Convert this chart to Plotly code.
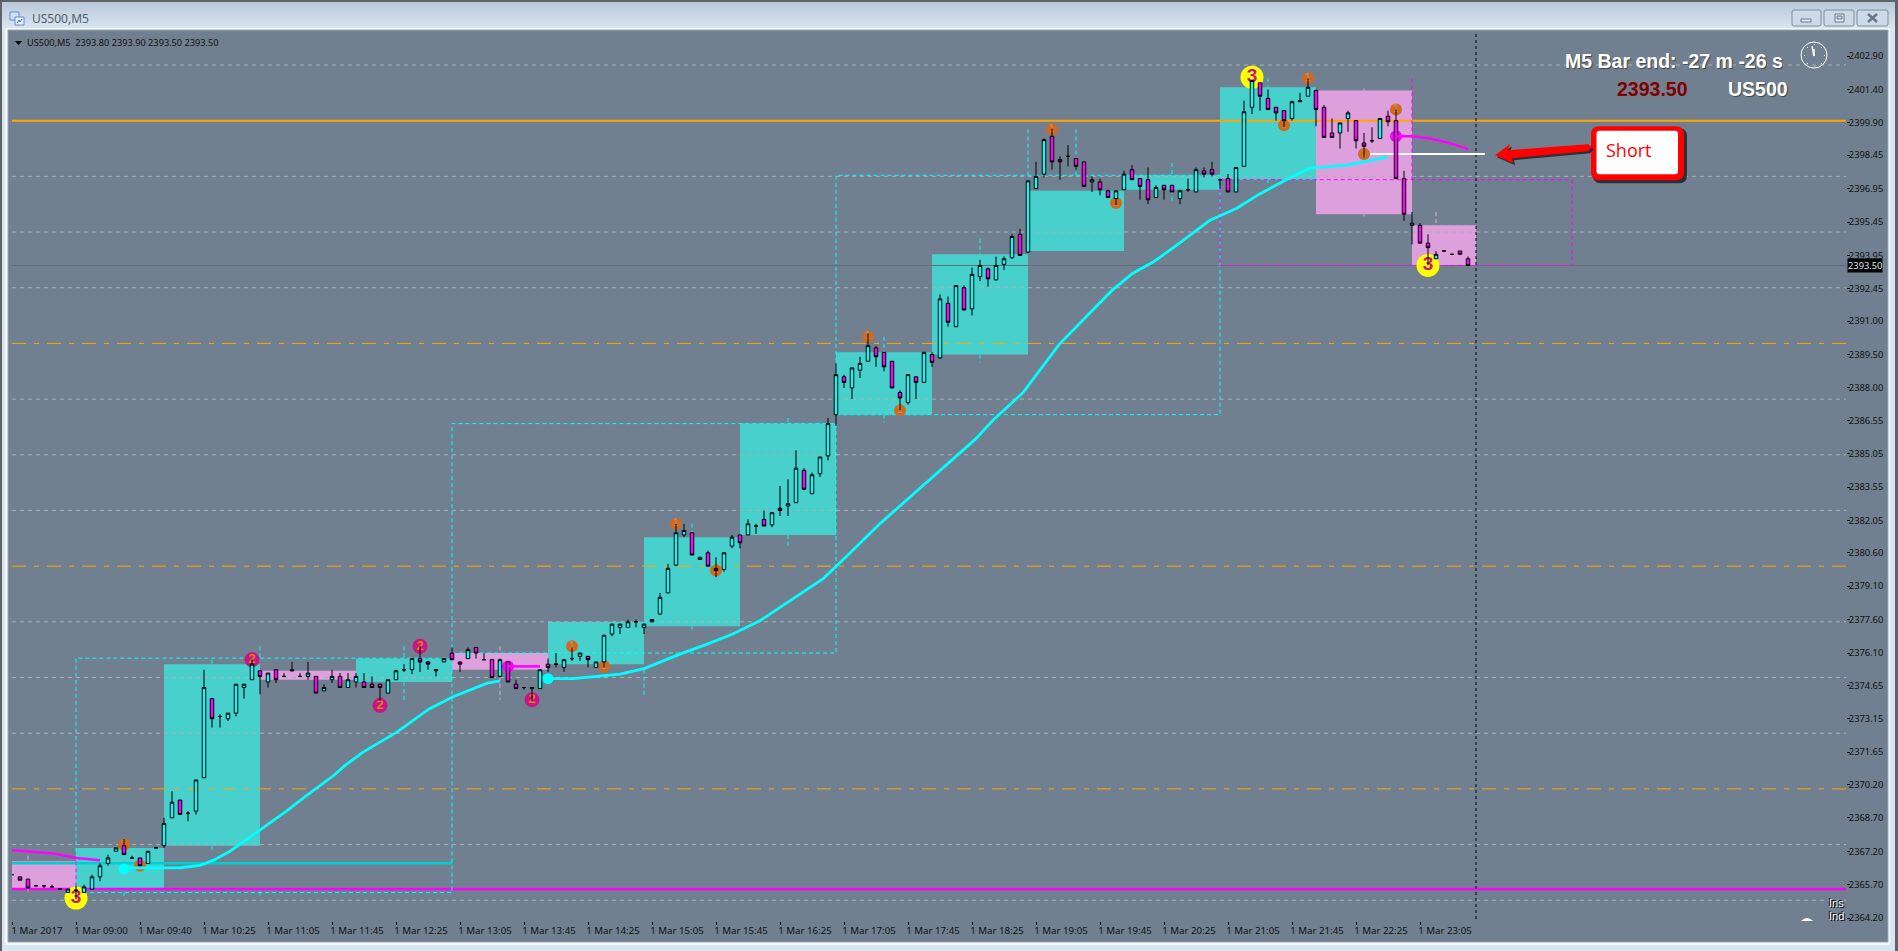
import plotly.graph_objects as go

W, H = 1898, 951
FIG_H = 955
PLOT_L, PLOT_R, PLOT_T, PLOT_B = 12, 1846, 34, 920

# ---------- data ----------
opens = [
 2366.15,2366.05,2365.95,2365.65,2365.65,2365.6,2365.5,2365.35,2365.45,2365.35,
 2365.5,2366.05,2366.65,2367.2,2367.45,2366.9,2366.9,2366.65,2367.35,2367.45,
 2368.7,2369.5,2368.9,2369,2370.5,2374.05,2373.25,2373.15,2373.4,2374.55,
 2374.9,2375.3,2374.8,2375.35,2375.05,2375.35,2375.05,2375.05,2375.05,2374.4,
 2374.9,2375.05,2374.55,2374.8,2374.8,2374.7,2374.7,2374.3,2374.9,2375.35,
 2375.35,2375.85,2375.7,2375.3,2375.7,2376.1,2375.7,2375.85,2376.35,2375.8,
 2375.8,2375.05,2375.7,2374.7,2374.55,2374.5,2374.5,2375.6,2375.6,2375.45,
 2375.85,2375.95,2375.95,2375.45,2375.7,2376.95,2377.25,2377.25,2377.5,2377.25,
 2377.5,2377.85,2378.8,2380.05,2381.4,2381.5,2380.3,2380.6,2379.9,2379.85,
 2380.9,2381.4,2381.4,2381.8,2382.1,2381.85,2382.6,2382.7,2382.85,2384.3,
 2383.25,2384.15,2384.95,2386.8,2388.5,2388,2388.8,2389.2,2389.8,2389.6,
 2389.2,2387.8,2387.35,2388.5,2388.25,2389.5,2389.35,2391.8,2390.75,2392.5,
 2391.55,2393,2393.35,2392.85,2393.55,2393.85,2394.9,2394.1,2396.95,2397.6,
 2399.3,2398.25,2398.4,2398.3,2398.15,2397.25,2397.25,2396.85,2396.5,2396.9,
 2397.8,2397.4,2397.35,2396.55,2397.1,2397.1,2396.5,2396.9,2396.8,2397.75,
 2397.8,2397.35,2397.4,2396.8,2397.95,2400.6,2401.7,2401,2400.6,2400.45,
 2400.1,2400.85,2401.1,2401.35,2400.6,2399.45,2399.45,2400.1,2400,2399,
 2399.1,2399.2,2400.2,2400,2397.4,2395.3,2395.3,2394.5,2393.8,2394.15,2394,2394.15,2393.8]
closes = [
 2366.15,2365.9,2365.55,2365.65,2365.65,2365.6,2365.5,2365.5,2365.45,2365.6,
 2366.05,2366.55,2366.9,2367.35,2367.05,2366.9,2366.55,2367.2,2367.35,2368.45,
 2369.4,2368.85,2368.9,2370.4,2374.55,2373.15,2373.25,2373.4,2374.7,2374.7,
 2375.6,2375.05,2375.2,2374.9,2375.05,2375.3,2375.05,2375.2,2374.3,2374.55,
 2375.05,2374.55,2374.9,2375.05,2374.55,2374.55,2374.55,2374.9,2375.3,2375.35,
 2375.85,2375.7,2375.6,2375.35,2375.85,2375.8,2375.6,2376.25,2376.1,2375.8,
 2375,2375.8,2374.8,2374.5,2374.55,2374.55,2375.35,2375.45,2375.6,2375.8,
 2375.85,2376.1,2375.8,2375.7,2376.9,2377.4,2377.4,2377.5,2377.5,2377.4,
 2377.6,2378.6,2379.9,2381.5,2381.6,2380.5,2380.4,2380,2379.8,2380.6,
 2381.3,2381.05,2381.9,2381.8,2381.8,2382.4,2382.5,2382.8,2384.4,2383.45,
 2384.1,2384.9,2386.4,2388.6,2388.25,2388.9,2389.1,2389.9,2389.4,2388.95,
 2388,2387.55,2388.6,2388.25,2389.6,2389.15,2392,2390.95,2392.6,2391.5,
 2393.1,2393.5,2392.9,2393.5,2393.8,2394.8,2393.95,2397.3,2397.5,2399.15,
 2398.15,2398.15,2398.4,2397.95,2397.05,2397.35,2396.9,2396.55,2396.85,2397.6,
 2397.35,2397.05,2396.45,2397,2396.9,2396.8,2396.85,2396.9,2397.8,2397.6,
 2397.6,2397.35,2396.8,2397.9,2400.4,2401.8,2401.1,2400.5,2400.35,2400,
 2400.85,2400.9,2401.5,2400.5,2399.25,2399.25,2399.9,2400.35,2399.1,2398.85,
 2399.1,2400.1,2399.95,2397.4,2395.8,2395.4,2394.5,2394.3,2394,2394.15,2394,2394,2393.5]
highs = [
 2366.15,2366.05,2365.95,2365.65,2365.65,2365.7,2365.5,2365.5,2365.65,2365.7,
 2366.15,2366.65,2367.05,2367.35,2367.75,2367,2366.9,2367.2,2367.4,2368.7,
 2369.9,2369.5,2369,2370.4,2375.35,2374.05,2373.35,2373.4,2374.7,2374.7,
 2375.8,2375.3,2375.2,2375.35,2375.2,2375.7,2375.2,2375.7,2375.05,2374.7,
 2375.35,2375.2,2375.2,2375.2,2375.2,2375.05,2374.7,2374.9,2375.35,2375.6,
 2375.85,2376.4,2375.75,2375.35,2375.85,2376.35,2375.7,2376.35,2376.35,2376.1,
 2375.8,2375.85,2375.7,2374.9,2374.55,2374.55,2375.35,2375.85,2376.1,2375.8,
 2376.35,2376.1,2375.95,2375.7,2376.9,2377.4,2377.4,2377.6,2377.6,2377.4,
 2377.6,2378.8,2380.1,2381.9,2381.9,2381.5,2380.4,2380.7,2380.4,2380.6,
 2381.4,2381.4,2382.1,2381.9,2382.5,2382.4,2383.6,2383.9,2385.2,2384.4,
 2384.2,2384.9,2386.65,2389.1,2388.6,2388.9,2389.4,2390.45,2389.9,2389.6,
 2389.2,2387.9,2388.6,2388.5,2389.6,2389.6,2392.2,2392.1,2392.6,2392.6,
 2393.4,2393.75,2393.4,2393.9,2393.9,2394.9,2395.15,2397.3,2398.15,2399.2,
 2399.65,2398.4,2398.9,2398.3,2398.15,2397.5,2397.4,2396.9,2396.85,2397.75,
 2398,2397.4,2397.9,2397.1,2397.1,2397.1,2396.9,2397.4,2397.9,2397.9,
 2398.15,2397.4,2397.6,2397.9,2400.9,2401.85,2401.7,2401.4,2400.6,2400.45,
 2400.9,2401.25,2401.9,2401.4,2400.7,2400.1,2399.9,2400.45,2400,2399.45,
 2399.7,2400.1,2400.45,2400.5,2397.75,2395.9,2395.4,2394.9,2394.15,2394.15,2394,2394.15,2393.9]
lows = [
 2366.15,2365.9,2365.55,2365.65,2365.55,2365.6,2365.5,2365.35,2365.05,2365.35,
 2365.5,2365.85,2366.55,2367.2,2367.05,2366.9,2366.4,2366.65,2367.35,2367.35,
 2368.7,2368.85,2368.55,2368.85,2370.5,2372.75,2372.75,2373.05,2373.25,2374.05,
 2374.9,2374.25,2374.55,2374.75,2375.05,2375.3,2375.05,2374.9,2374.3,2374.4,
 2374.75,2374.55,2374.55,2374.55,2374.55,2374.55,2373.95,2374.3,2374.9,2375.25,
 2375.15,2375.25,2375.35,2375.05,2375.7,2375.8,2375.25,2375.85,2375.85,2375.8,
 2375,2375,2374.8,2374.5,2374.45,2373.95,2374.5,2375.25,2375.45,2375.25,
 2375.75,2375.75,2375.45,2375.45,2375.45,2376.85,2376.95,2377.25,2377.25,2376.95,
 2377.5,2377.8,2378.8,2380,2381.3,2380.5,2380.3,2380,2379.5,2379.75,
 2380.8,2380.8,2381.4,2381.45,2381.8,2381.75,2382.25,2382.25,2382.85,2383.45,
 2383.25,2384,2384.75,2386.3,2388,2387.5,2388.45,2389.2,2388.95,2388.75,
 2388,2387,2387.25,2387.5,2388.25,2388.95,2389.3,2390.75,2390.75,2391.5,
 2391.25,2392.8,2392.55,2392.85,2393.3,2393.8,2393.95,2394.1,2396.95,2397.45,
 2397.8,2397.35,2397.95,2397.8,2397.05,2396.8,2396.65,2396.55,2396.2,2396.9,
 2397.35,2396.45,2396.25,2396.55,2396.45,2396.8,2396.25,2396.8,2396.8,2397.45,
 2397.5,2396.95,2396.8,2396.8,2397.95,2400.3,2400.45,2400.5,2400,2399.7,
 2400,2400.85,2401.1,2399.75,2399.25,2399.25,2398.75,2399.5,2398.75,2398.35,
 2399,2399.2,2399.75,2397.4,2395.5,2394.45,2394.5,2393.5,2393.8,2394.15,2394,2394,2393.5]
bars = list(range(len(opens)))

time_labels = ["1 Mar 2017","1 Mar 09:00","1 Mar 09:40","1 Mar 10:25","1 Mar 11:05","1 Mar 11:45",
               "1 Mar 12:25","1 Mar 13:05","1 Mar 13:45","1 Mar 14:25","1 Mar 15:05","1 Mar 15:45",
               "1 Mar 16:25","1 Mar 17:05","1 Mar 17:45","1 Mar 18:25","1 Mar 19:05","1 Mar 19:45",
               "1 Mar 20:25","1 Mar 21:05","1 Mar 21:45","1 Mar 22:25","1 Mar 23:05"]
time_ticks = [0,8,16,24,32,40,48,56,64,72,80,88,96,104,112,120,128,136,144,152,160,168,176]
price_ticks = [2402.90,2401.40,2399.90,2398.45,2396.95,2395.45,2393.95,2392.45,2391.00,2389.50,
               2388.00,2386.55,2385.05,2383.55,2382.05,2380.60,2379.10,2377.60,2376.10,2374.65,
               2373.15,2371.65,2370.20,2368.70,2367.20,2365.70,2364.20]

grid_levels = [2365,2367.5,2372.5,2375,2377.5,2382.5,2385,2387.5,2392.5,2395,2397.5,2402.5]
orange_dash_levels = [2370,2380,2390]
orange_level = 2400
magenta_level = 2365.5
bid_level = 2393.5
cyan_level, cyan_level_end = 2366.66, 55

zone_start  = [0,8,19,31,43,55,67,79,91,103,115,127,139,151,163,175]
zone_end    = [8,19,31,43,55,67,79,91,103,115,127,139,151,163,175,183]
zone_top    = [2366.75,2367.35,2375.6,2375.3,2375.85,2376.1,2377.5,2381.3,2386.4,2389.6,2394,2396.85,2397.55,2401.5,2401.35,2395.3]
zone_bottom = [2365.5,2365.55,2367.45,2374.9,2374.8,2375.35,2375.6,2377.3,2381.4,2386.8,2389.5,2394.15,2396.9,2397.35,2395.8,2393.5]
zone_kind   = ["s","l","l","s","l","s","l","l","l","l","l","l","l","l","s","s"]

box_start  = [8,55,103,151]
box_end    = [55,103,151,195]
box_top    = [2375.87,2386.4,2397.55,2397.35]
box_bottom = [2365.35,2376.1,2386.8,2393.5]
box_kind   = ["l","l","l","s"]

whisk_bar = [31,31,49,49,61,61,79,85,85,97,97,109,109,121,121,127,133,145,145,157,157,169,169,178,2,2,14,25,25,8]
whisk_p0  = [2376.4,2365.4,2376.4,2374.8,2376.4,2375.35,2375.35,2381.9,2377.3,2386.65,2381.4,2390.3,2386.8,2394.7,2389.5,2399.6,2399.6,2398.1,2396.9,2401.9,2397.35,2401.45,2395.8,2395.9,2367.0,2365.5,2365.35,2375.8,2367.45,2366.75]
whisk_p1  = [2375.87,2365.1,2375.87,2373.9,2376.05,2374.0,2374.1,2381.3,2377.15,2386.4,2380.8,2389.6,2386.45,2394.0,2389.15,2397.55,2397.55,2397.55,2396.3,2401.5,2397.2,2401.35,2395.7,2395.3,2366.75,2365.4,2365.2,2375.6,2367.2,2365.5]
whisk_kind = ["l","l","l","l","s","s","l","l","l","l","l","l","l","l","l","l","l","l","l","l","l","s","s","s","s","s","l","l","l","m"]

ma_bull_x1 = [14,21,23.5,25.2,27.25,31,34.3,36.8,40.2,41.8,43.9,48.1,52.2,55.2,57.6,59.4,61]
ma_bull_y1 = [2366.45,2366.46,2366.57,2366.8,2367.2,2368.15,2369,2369.7,2370.6,2371.1,2371.65,2372.55,2373.6,2374.15,2374.5,2374.75,2374.85]
ma_bull_x2 = [67,70.1,73.1,76,79,83.5,86.9,90.1,93.5,101.4,104.4,108.5,120.4,122.6,126.4,130.9,137.5,140.1,142.6,145.6,149.75,153.1,155.9,159.4,162.25,166.9,171.9]
ma_bull_y2 = [2374.95,2374.95,2375.05,2375.15,2375.4,2376.05,2376.5,2376.95,2377.55,2379.44,2380.47,2381.91,2385.69,2386.54,2387.8,2389.96,2392.38,2393.15,2393.64,2394.41,2395.53,2396.07,2396.7,2397.37,2397.87,2398,2398.36]
ma_bear_x1 = [0,5.2,8.1,11]
ma_bear_y1 = [2367.25,2367.1,2366.9,2366.8]
ma_bear_x2 = [62,66]
ma_bear_y2 = [2375.5,2375.5]
ma_bear_x3 = [173,175,177.25,179.75,182]
ma_bear_y3 = [2399.3,2399.3,2399.2,2398.99,2398.72]
entry_bar_start, entry_bar_end, entry_price = 169, 184.1, 2398.5

dot_bull_x, dot_bull_y = [14,67], [2366.4,2374.95]
dot_bear_x, dot_bear_y = [62,173], [2375.5,2399.3]

sig3_x, sig3_y = [8,155,177], [2365.1,2401.95,2393.5]
sig2_x, sig2_y = [30,46,51,65], [2375.8,2373.75,2376.4,2374.0]
sig1_x = [14,16,70,74,83,88,107,111,130,138,162,159,169,173]
sig1_y = [2367.5,2366.55,2376.4,2375.5,2381.9,2379.8,2390.3,2387.0,2399.6,2396.3,2401.9,2399.8,2398.5,2400.5]

# ---------- colours ----------
SLATE="#708090"; TEAL="#48d1cc"; PLUM="#dda0dd"; CYAN="#00ffff"; MAG="#ff00ff"; ORANGE="#ffa500"
GRID="#a9b0b4"; WIN="#d9e5f2"

def fx(px): return px/W
def fy(py): return 1-py/H
def path(points, close=True):
    s=" ".join(("M" if k==0 else "L")+f"{fx(a):.6f},{fy(b):.6f}" for k,(a,b) in enumerate(points))
    return s+(" Z" if close else "")
def rrect(x0,y0,x1,y1,r):
    p=f"M{fx(x0+r):.6f},{fy(y0):.6f} L{fx(x1-r):.6f},{fy(y0):.6f} Q{fx(x1):.6f},{fy(y0):.6f} {fx(x1):.6f},{fy(y0+r):.6f} "
    p+=f"L{fx(x1):.6f},{fy(y1-r):.6f} Q{fx(x1):.6f},{fy(y1):.6f} {fx(x1-r):.6f},{fy(y1):.6f} "
    p+=f"L{fx(x0+r):.6f},{fy(y1):.6f} Q{fx(x0):.6f},{fy(y1):.6f} {fx(x0):.6f},{fy(y1-r):.6f} "
    p+=f"L{fx(x0):.6f},{fy(y0+r):.6f} Q{fx(x0):.6f},{fy(y0):.6f} {fx(x0+r):.6f},{fy(y0):.6f} Z"
    return p

shapes=[]
def prect(x0,y0,x1,y1,fill=None,line=None,lw=1,layer="below"):
    shapes.append(dict(type="rect",xref="paper",yref="paper",x0=fx(x0),x1=fx(x1),y0=fy(y0),y1=fy(y1),
        fillcolor=fill or "rgba(0,0,0,0)",line=dict(color=line or "rgba(0,0,0,0)",width=lw if line else 0),layer=layer))
def ppath(d,fill=None,line=None,lw=0,layer="above"):
    shapes.append(dict(type="path",path=d,xref="paper",yref="paper",
        fillcolor=fill or "rgba(0,0,0,0)",line=dict(color=line or "rgba(0,0,0,0)",width=lw),layer=layer))

# ---------- window chrome ----------
prect(0,0,W,H+4,fill="#5f6368")
prect(2,2,W-3,H-1,fill=WIN)
for k in range(14):
    t=k/13
    c=f"rgb({int(186+33*t)},{int(201+29*t)},{int(218+24*t)})"
    prect(2,2+2*k,W-3,4+2*k,fill=c)
prect(5,28,W-8,944,fill="#f4f8fc")
prect(8,30,W-10,941,fill=SLATE,line="#98a3ae")
prect(10,12,19,20,fill="#cfe2f8",line="#5b8ed6")
prect(15,17,24,25,fill="#e8f2fd",line="#5b8ed6")
ppath(path([(17,23),(19,20),(20,22),(22,19)],close=False),line="#3f74c4",lw=1,layer="below")
for a,b in [(1792,1821),(1824,1854),(1857,1888)]:
    ppath(rrect(a,10,b,26,2),fill="#cdd9e6",line="#7d8ea0",lw=1,layer="below")
prect(1801,19,1811,22,fill="#e8eef5",line="#667788")
prect(1835,14,1844,22,fill="#e8eef5",line="#667788")
prect(1837,16,1842,19,fill="#cdd9e6",line="#667788")
ppath(path([(1868,14),(1877,22)],close=False),line="#667788",lw=2.5,layer="below")
ppath(path([(1877,14),(1868,22)],close=False),line="#667788",lw=2.5,layer="below")

# ---------- data shapes: zones and lines ----------
def dline(x0,y0,x1,y1,color,width=1,dash="solid"):
    shapes.append(dict(type="line",xref="x",yref="y",x0=x0,x1=x1,y0=y0,y1=y1,
        line=dict(color=color,width=width,dash=dash),layer="below"))
kinds={"l":TEAL,"s":PLUM}
for a,b,t,u,k in zip(zone_start,zone_end,zone_top,zone_bottom,zone_kind):
    shapes.append(dict(type="rect",xref="x",yref="y",x0=a,x1=b,y0=u,y1=t,fillcolor=kinds[k],
        line=dict(width=0),layer="below"))
XR=229.25
for g in grid_levels:
    dline(0,g,XR,g,GRID,1,"4px,4px")
for g in orange_dash_levels:
    dline(0,g,XR,g,ORANGE,1,"14px,8px,5px,8px")
dline(0,bid_level,XR,bid_level,"#5f6e7e",1)
dline(0,orange_level,XR,orange_level,ORANGE,2)
dline(0,magenta_level,XR,magenta_level,MAG,2.5)
dline(0,cyan_level,cyan_level_end,cyan_level,"#00ced1",2.5)
boxc={"l":CYAN,"s":MAG}
for a,b,t,u,k in zip(box_start,box_end,box_top,box_bottom,box_kind):
    shapes.append(dict(type="rect",xref="x",yref="y",x0=a,x1=b,y0=u,y1=t,
        fillcolor="rgba(0,0,0,0)",line=dict(color=boxc[k],width=1,dash="4px,3px"),layer="below"))
wc={"l":CYAN,"s":"#e6a6e6","m":MAG}
for a,p0,p1,k in zip(whisk_bar,whisk_p0,whisk_p1,whisk_kind):
    dline(a,p0,a,p1,wc[k],1,"4px,3px")
dline(175,2401.9,175,2397.35,MAG,1,"4px,3px")
dline(183,2403.89,183,2364.07,"black",1,"3px,3px")
dline(entry_bar_start,entry_price,entry_bar_end,entry_price,"white",2)

# ---------- traces ----------
fig=go.Figure()
def dots(x,y,size,color,text=None,tsize=10,tcolor="white",bold=False):
    fig.add_trace(go.Scatter(x=x,y=y,mode="markers+text" if text else "markers",
        marker=dict(size=size,color=color,line=dict(width=0)),
        text=[text]*len(x) if text else None,textposition="middle center",
        textfont=dict(size=tsize,color=tcolor,family="Liberation Sans",weight=700 if bold else 400),
        hoverinfo="skip",showlegend=False,zorder=-1,cliponaxis=False))
dots(sig3_x,sig3_y,23,"#ffff00","3",19,"#c71585",True)
dots(sig2_x,sig2_y,15,"#c71585","2",13,"#e07b20",True)
dots(sig1_x,sig1_y,12,"#d2691e","1",10,"#b89a80")
for xs,ys in [(ma_bull_x1,ma_bull_y1),(ma_bull_x2,ma_bull_y2)]:
    fig.add_trace(go.Scatter(x=xs,y=ys,mode="lines",line=dict(color=CYAN,width=2.8),hoverinfo="skip",showlegend=False))
for xs,ys in [(ma_bear_x1,ma_bear_y1),(ma_bear_x2,ma_bear_y2),(ma_bear_x3,ma_bear_y3)]:
    fig.add_trace(go.Scatter(x=xs,y=ys,mode="lines",line=dict(color=MAG,width=2.5),hoverinfo="skip",showlegend=False))
dots(dot_bull_x,dot_bull_y,11,CYAN)
dots(dot_bear_x,dot_bear_y,12,MAG)
fig.add_trace(go.Candlestick(x=bars,open=opens,high=highs,low=lows,close=closes,whiskerwidth=0,
    increasing=dict(fillcolor=CYAN,line=dict(color="black",width=1)),
    decreasing=dict(fillcolor=MAG,line=dict(color="black",width=1)),
    hoverinfo="skip",showlegend=False))

# ---------- overlays ----------
ppath(rrect(1593,128,1687,183,8),fill="#2a3038")
ppath(rrect(1591,126,1684,180,8),fill="#ff0000")
ppath(rrect(1596.5,130.5,1678,174,3),fill="white")
arrow=[(1495,155),(1510,144),(1508,150),(1588,144),(1592,147),(1588,151),(1512,158),(1513,163)]
ppath(path([(a+2,b+2) for a,b in arrow]),fill="#2a3038")
ppath(path(arrow),fill="#ff0000")
shapes.append(dict(type="circle",xref="paper",yref="paper",x0=fx(1801),x1=fx(1827),y0=fy(68),y1=fy(42),
    line=dict(color="white",width=1),fillcolor="rgba(0,0,0,0)",layer="above"))
ppath(path([(1814,56),(1812,46)],close=False),line="white",lw=1.5)
ppath(path([(1814,56),(1814,49)],close=False),line="white",lw=1.5)
for a,b in [(1814,44),(1824,55),(1814,66),(1804,55),(1821,47),(1821,63),(1807,47),(1807,63)]:
    prect(a,b,a+1,b+1,fill="white",layer="above")
ppath(f"M{fx(1801):.6f},{fy(920):.6f} Q{fx(1807):.6f},{fy(914):.6f} {fx(1813):.6f},{fy(920):.6f} Z",fill="white")
ppath(path([(15,41),(22,41),(18.5,45)]),fill="black")

def label(text,x,y,size,color="white",bold=False,family="Liberation Sans",anchor="center",shadow=None):
    f=dict(size=size,color=color,family=family,weight=700 if bold else 400)
    if shadow: f["shadow"]=shadow
    return dict(text=text,xref="paper",yref="paper",x=fx(x),y=fy(y),xanchor=anchor,yanchor="middle",
                showarrow=False,font=f)
annos=[
 label("US500,M5",30,18.5,12,"#55606c",family="Noto Sans",anchor="left"),
 label("US500,M5  2393.80 2393.90 2393.50 2393.50",25,42.5,9.2,"#111111",family="Noto Sans",anchor="left"),
 label("M5 Bar end: -27 m -26 s",1674,61,19.5,"white",True,shadow="1px 1px 1px #444"),
 label("2393.50",1652,89,19.5,"#800000",True),
 label("US500",1758,89,19.5,"white",True,shadow="1px 1px 1px #444"),
 label("Short",1629,150,18,"#ff0000",family="Open Sans"),
 label("Ins",1846,902.5,11,"white",anchor="right",shadow="1px 1px 0 #000,-1px -1px 0 #000"),
 label("Ind",1846,915.5,11,"white",anchor="right",shadow="1px 1px 0 #000,-1px -1px 0 #000"),
 dict(text=f"{closes[-1]:.2f}",xref="paper",yref="y",x=fx(1847),y=closes[-1],xanchor="left",yanchor="middle",
      showarrow=False,bgcolor="black",borderpad=0,font=dict(size=9.3,color="#dfe3e6",family="Noto Sans")),
]

xfont=dict(size=9.7,color="#111111",family="Noto Sans")
yfont=dict(size=9.3,color="#111111",family="Noto Sans")
fig.update_layout(
    width=W,height=FIG_H,margin=dict(l=0,r=0,t=0,b=0),autosize=False,
    paper_bgcolor=WIN,plot_bgcolor=SLATE,showlegend=False,hovermode=False,dragmode=False,
    boxgap=0.38,shapes=shapes,annotations=annos,
    xaxis=dict(domain=[fx(PLOT_L),fx(PLOT_R)],range=[0,XR],tickmode="array",tickvals=time_ticks,ticktext=time_labels,
        showgrid=False,zeroline=False,rangeslider=dict(visible=False),ticks="outside",ticklen=3,tickcolor="black",
        showline=True,linecolor="black",linewidth=1,mirror=True,tickfont=xfont,ticklabelshift=25,ticklabelstandoff=-3,fixedrange=True),
    yaxis=dict(domain=[fy(PLOT_B),fy(PLOT_T)],range=[2364.07,2403.89],side="right",tickmode="array",tickvals=price_ticks,
        tickformat=".2f",showgrid=False,zeroline=False,ticks="outside",ticklen=3,tickcolor="black",ticklabelstandoff=-3,
        showline=True,linecolor="black",linewidth=1,mirror=True,tickfont=yfont,fixedrange=True),
)
fig.write_html("out.html",config=dict(displayModeBar=False),
    post_script="document.body.style.margin='0';document.body.style.overflow='hidden';")
